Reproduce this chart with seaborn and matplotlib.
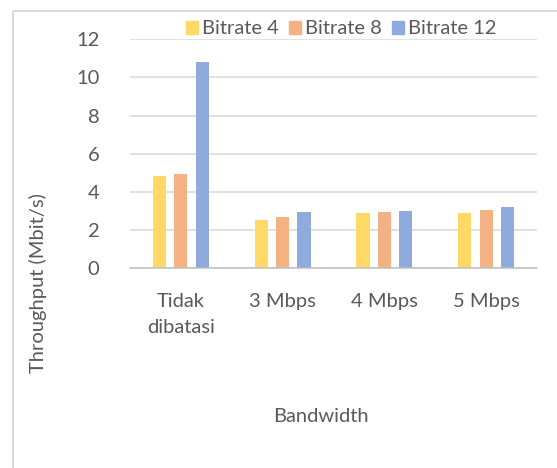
import matplotlib
matplotlib.use("Agg")
import pandas as pd
import seaborn as sb
from matplotlib import pyplot as plt
from matplotlib.patches import Rectangle

categories = ["Tidak\ndibatasi", "3 Mbps", "4 Mbps", "5 Mbps"]
series = ["Bitrate 4", "Bitrate 8", "Bitrate 12"]
bitrate_4 = [4.85, 2.55, 2.88, 2.92]
bitrate_8 = [4.93, 2.71, 2.97, 3.06]
bitrate_12 = [10.8, 2.95, 3.02, 3.20]
colors = ["#FFD966", "#F4B183", "#8FAADC"]

df = pd.DataFrame({
    "Bandwidth": categories * 3,
    "Series": [s for s in series for _ in categories],
    "Throughput": bitrate_4 + bitrate_8 + bitrate_12,
})

sb.set_theme(style="white")
plt.rcParams["font.family"] = ["Lato", "DejaVu Sans"]
text_color = "#595959"
fs = 14.5

fig = plt.figure(figsize=(5.57, 4.68), dpi=100)

# background layer: chart border, in pixel units
bg = fig.add_axes([0, 0, 1, 1], zorder=-1)
bg.set_xlim(0, 557)
bg.set_ylim(468, 0)
bg.axis("off")
bg.add_patch(Rectangle((12.5, 10.5), 600, 500, fill=False,
                       edgecolor="#D9D9D9", linewidth=1.5))

ax = fig.add_axes([130 / 557, 1 - 268.3 / 468, 407 / 557, 229 / 468])
ax.patch.set_alpha(0)

sb.barplot(
    data=df, x="Bandwidth", y="Throughput", hue="Series",
    palette=colors, width=0.63, gap=0.38, ax=ax, legend=False,
    linewidth=0, saturation=1,
)

ax.set_ylim(0, 12)
ax.set_xlim(-0.5, 3.5)
ax.set_yticks(range(0, 13, 2))
ax.yaxis.grid(True, color="#D9D9D9", linewidth=1.1)
ax.set_axisbelow(True)
for side in ["left", "right", "top"]:
    ax.spines[side].set_visible(False)
ax.spines["bottom"].set_color("#BFBFBF")
ax.spines["bottom"].set_linewidth(1.1)
ax.tick_params(axis="both", length=0, labelsize=fs, colors=text_color)
ax.tick_params(axis="y", pad=22)
ax.tick_params(axis="x", pad=18)
ax.set_xlabel("")
ax.set_ylabel("")
for lbl in ax.get_xticklabels():
    lbl.set_linespacing(1.6)

fig.text(38 / 557, 1 - 283 / 468, "Throughput (Mbit/s)", rotation=90,
         ha="center", va="center", fontsize=fs, color=text_color)
fig.text(321 / 557, 1 - 416 / 468, "Bandwidth", ha="center", va="center",
         fontsize=fs, color=text_color)

handles = [Rectangle((0, 0), 1, 1, color=c) for c in colors]
fig.legend(handles, series, loc="center", bbox_to_anchor=(341 / 557, 1 - 29 / 468),
           ncol=3, frameon=False, fontsize=fs, handlelength=0.6, handleheight=0.6,
           handletextpad=0.2, columnspacing=0.5, labelcolor=text_color)

fig.savefig("out.png", dpi=100)
